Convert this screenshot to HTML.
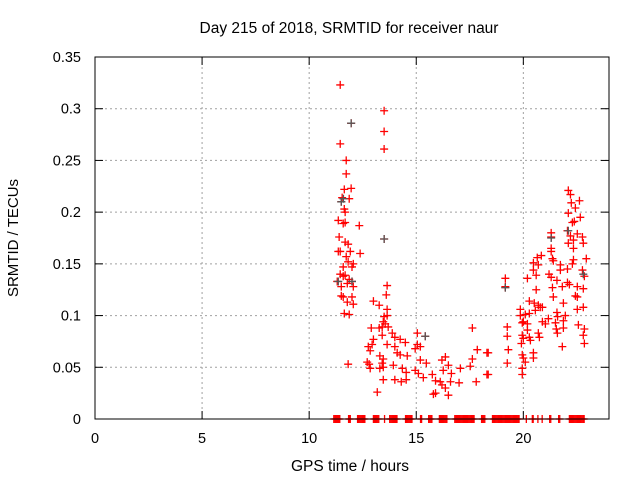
<!DOCTYPE html>
<html><head><meta charset="utf-8"><style>
body{margin:0;background:#fff;}
svg{display:block;font-family:"Liberation Sans",Arial,sans-serif;}
</style></head><body>
<svg id="chart" width="640" height="480">
<text x="349" y="33" text-anchor="middle" font-size="15.5">Day 215 of 2018, SRMTID for receiver naur</text>
<text x="18" y="238" text-anchor="middle" font-size="15" transform="rotate(-90 18 238)">SRMTID / TECUs</text>
<text x="350" y="471" text-anchor="middle" font-size="15.5">GPS time / hours</text>
<g id="grid"></g>
<g id="axes"></g>
<g id="points"></g>
<rect x="95" y="57" width="514" height="362" fill="none" stroke="#000" stroke-width="1"/>
</svg>
<script>
const xTicks=[0,5,10,15,20];
const yTicks=[0,0.05,0.1,0.15,0.2,0.25,0.3,0.35];
const yTickLabels=["0","0.05","0.1","0.15","0.2","0.25","0.3","0.35"];
const seriesX=[11.45,13.5,11.96,13.5,11.45,13.5,11.73,11.73,11.64,11.96,11.54,11.87,11.5,11.64,11.68,11.36,11.68,11.59,12.34,11.4,11.68,11.82,13.5,11.36,11.45,11.92,12.38,11.73,11.82,12.06,12.0,11.59,11.45,11.59,11.68,11.31,11.87,12.0,11.78,11.5,12.06,13.64,11.5,11.59,12.0,13.6,11.78,12.06,13.0,13.27,11.64,11.87,13.64,13.64,13.5,13.46,13.55,13.41,12.9,13.27,13.69,13.41,13.88,13.0,14.0,12.76,12.94,13.64,14.0,14.25,14.49,15.05,15.42,15.05,15.19,14.95,14.11,14.25,14.58,13.3,13.46,12.85,12.71,12.8,13.41,15.19,15.47,16.2,16.36,16.5,17.62,12.85,13.3,13.46,13.93,14.35,14.53,14.95,15.1,15.33,15.75,15.9,16.12,16.26,16.64,17.06,17.52,13.46,14.0,14.3,14.53,16.2,16.36,16.6,17.0,17.8,18.3,17.85,18.3,15.8,15.9,16.5,13.18,11.82,17.62,
22.1,22.2,22.62,22.24,22.43,22.1,22.66,22.38,22.29,21.3,21.3,22.06,22.52,22.76,22.2,22.34,22.1,22.8,22.34,21.3,21.3,20.84,20.65,21.36,21.4,21.73,22.34,22.29,22.94,20.47,20.7,20.47,20.6,21.73,22.06,22.76,22.85,19.16,20.19,21.2,21.3,21.57,22.06,19.16,19.16,20.6,21.36,21.82,22.15,22.52,22.8,22.43,22.52,20.28,20.51,20.7,20.79,21.4,21.87,22.8,22.52,19.86,20.09,20.28,20.56,20.89,19.86,20.0,20.19,20.89,21.03,21.17,21.57,21.6,21.96,21.87,19.25,19.25,19.3,19.25,18.36,18.36,19.95,20.19,19.95,20.0,20.28,20.33,19.91,20.7,20.75,21.5,21.54,21.59,21.87,21.82,22.57,22.85,22.8,22.85,19.95,20.0,20.47,20.47,20.09,19.95,19.95];
const seriesY=[0.323,0.298,0.286,0.278,0.266,0.261,0.25,0.237,0.222,0.223,0.214,0.213,0.21,0.203,0.2,0.192,0.19,0.189,0.187,0.176,0.171,0.169,0.174,0.162,0.162,0.162,0.16,0.157,0.152,0.15,0.147,0.147,0.14,0.138,0.139,0.133,0.135,0.133,0.131,0.128,0.128,0.129,0.119,0.118,0.118,0.12,0.113,0.111,0.114,0.11,0.102,0.101,0.106,0.1,0.099,0.094,0.092,0.089,0.088,0.088,0.089,0.081,0.083,0.077,0.079,0.07,0.072,0.072,0.07,0.077,0.074,0.083,0.08,0.072,0.07,0.068,0.064,0.062,0.061,0.061,0.058,0.066,0.055,0.053,0.054,0.057,0.054,0.057,0.06,0.052,0.058,0.049,0.049,0.05,0.052,0.049,0.045,0.047,0.044,0.04,0.043,0.037,0.036,0.047,0.044,0.049,0.051,0.038,0.038,0.036,0.038,0.033,0.03,0.036,0.035,0.036,0.043,0.067,0.064,0.024,0.025,0.023,0.026,0.053,0.088,
0.221,0.217,0.211,0.209,0.204,0.199,0.195,0.191,0.19,0.18,0.176,0.182,0.179,0.176,0.177,0.173,0.17,0.17,0.165,0.165,0.162,0.158,0.156,0.155,0.153,0.149,0.154,0.15,0.155,0.151,0.149,0.144,0.139,0.144,0.145,0.144,0.138,0.136,0.136,0.14,0.137,0.134,0.132,0.128,0.127,0.125,0.127,0.128,0.13,0.128,0.126,0.119,0.118,0.114,0.112,0.11,0.108,0.118,0.112,0.108,0.106,0.106,0.101,0.102,0.105,0.108,0.1,0.094,0.092,0.094,0.092,0.097,0.103,0.099,0.1,0.095,0.089,0.08,0.067,0.054,0.064,0.043,0.093,0.086,0.081,0.078,0.079,0.076,0.073,0.083,0.079,0.093,0.087,0.083,0.088,0.07,0.091,0.087,0.081,0.073,0.062,0.059,0.064,0.059,0.055,0.049,0.043];
const zeroTimes=[11.15,11.2,11.25,11.3,11.35,11.4,11.43,11.84,11.88,11.92,12.26,12.31,12.36,12.41,12.46,12.51,12.56,12.6,13.0,13.05,13.1,13.15,13.2,13.25,13.52,13.76,13.81,13.86,13.91,13.96,14.01,14.06,14.1,14.5,14.55,14.6,14.65,14.7,14.75,14.8,15.2,15.25,15.58,15.63,15.68,15.73,16.08,16.13,16.18,16.23,16.28,16.33,16.38,16.43,16.8,16.85,16.9,16.95,17.0,17.05,17.1,17.15,17.2,17.25,17.3,17.35,17.4,17.45,17.5,17.55,17.6,17.65,17.7,18.05,18.1,18.15,18.2,18.56,18.61,18.66,18.71,18.76,18.81,18.86,18.91,18.96,19.01,19.06,19.11,19.16,19.21,19.26,19.31,19.36,19.41,19.46,19.51,19.56,19.61,19.66,19.71,19.76,19.8,20.14,20.42,20.46,20.68,20.88,21.23,21.28,21.65,21.7,22.15,22.2,22.25,22.3,22.35,22.4,22.45,22.5,22.55,22.6,22.65,22.7,22.75,22.8,22.84];
const grayX=[11.96,11.6,11.5,13.5,22.1,21.3,12.0,19.16,22.8,15.42,11.36];
const grayY=[0.286,0.213,0.21,0.174,0.182,0.175,0.133,0.127,0.14,0.08,0.133];

const NS="http://www.w3.org/2000/svg";
const X0=95,X1=609,Y0=419,Y1=57,XMAX=24,YMAX=0.35;
function sx(v){return X0+v/XMAX*(X1-X0);}
function sy(v){return Y0-v/YMAX*(Y0-Y1);}
const grid=document.getElementById('grid'),axes=document.getElementById('axes'),pts=document.getElementById('points');
function mk(tag,at,parent){const e=document.createElementNS(NS,tag);for(const k in at)e.setAttribute(k,at[k]);parent.appendChild(e);return e;}
yTicks.forEach((v,i)=>{
  const y=sy(v);
  if(v>0&&v<YMAX){
    const g=mk('line',{x1:X0,x2:X1,y1:y,y2:y,stroke:'#a0a0a0','stroke-dasharray':'2,3'},grid);
    
    
  }
  const t1=mk('line',{x1:X0,x2:X0+8,y1:y,y2:y,stroke:'#000'},axes);
  
  
  const t2=mk('line',{x1:X1-8,x2:X1,y1:y,y2:y,stroke:'#000'},axes);
  
  
  const l=mk('text',{x:X0-14,y:y+5,'text-anchor':'end','font-size':'14.5'},axes);
  l.textContent=yTickLabels[i];
  
  
});
xTicks.forEach(v=>{
  const x=sx(v);
  if(v>0){
    const g=mk('line',{x1:x,x2:x,y1:Y1,y2:Y0,stroke:'#a0a0a0','stroke-dasharray':'2,3'},grid);
    
    
  }
  const t1=mk('line',{x1:x,x2:x,y1:Y0,y2:Y0-8,stroke:'#000'},axes);
  
  
  const t2=mk('line',{x1:x,x2:x,y1:Y1,y2:Y1+8,stroke:'#000'},axes);
  
  
  const l=mk('text',{x:x,y:Y0+24,'text-anchor':'middle','font-size':'14.5'},axes);
  l.textContent=String(v);
  
  
});
function cross(xv,yv,col,name){
  const x=sx(xv),y=sy(yv);
  const p=mk('path',{d:`M${x-4},${y}H${x+4}M${x},${y-4}V${y+4}`,stroke:col,'stroke-width':'1.3',fill:'none'},pts);
  
  
}
zeroTimes.forEach(t=>cross(t,0,'#f00','zero-point'));
seriesX.forEach((t,i)=>cross(t,seriesY[i],'#f00','srmtid-point'));
grayX.forEach((t,i)=>cross(t,grayY[i],'#555','srmtid-point-gray'));
</script>
</body></html>
